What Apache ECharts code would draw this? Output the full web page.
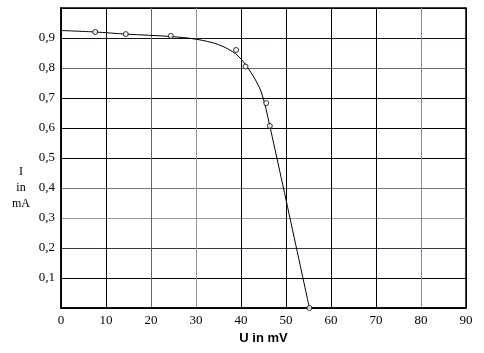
<!DOCTYPE html>
<html>
<head>
<meta charset="utf-8">
<script src="https://cdn.jsdelivr.net/npm/echarts@6/dist/echarts.min.js"></script>
<style>
  html, body { margin: 0; padding: 0; background: #fff; }
  #main { width: 484px; height: 353px; }
</style>
</head>
<body>
<div id="main"></div>
<script>
// measured points (U in mV, I in mA)
var measU = [7.6, 14.4, 24.4, 38.9, 41.0, 45.6, 46.4, 55.2];
var measI = [0.92, 0.913, 0.907, 0.86, 0.805, 0.683, 0.607, 0.0];

// hand drawn trend curve
var fitU = [0, 7.6, 14.4, 24.4, 30, 35, 39, 42, 44.5, 46.4, 55.2];
var fitI = [0.925, 0.92, 0.913, 0.905, 0.896, 0.878, 0.845, 0.79, 0.72, 0.607, 0.0];

var xTicks = [0, 10, 20, 30, 40, 50, 60, 70, 80, 90];

var myChart = echarts.init(document.getElementById('main'));

var serif = 'Liberation Serif';

var option = {
  animation: false,
  grid: {
    left: 61, right: 18, top: 8, bottom: 45,
    show: true, borderColor: '#000', borderWidth: 1.5
  },
  xAxis: {
    type: 'value',
    min: 0, max: 90, interval: 10,
    name: 'U in mV',
    nameLocation: 'middle',
    nameGap: 24,
    nameTextStyle: { fontFamily: 'Liberation Sans', fontWeight: 'bold', fontSize: 13, color: '#000' },
    axisLine: { show: true, lineStyle: { color: '#000', width: 1.5 } },
    axisTick: { show: false },
    axisLabel: {
      fontFamily: serif, fontSize: 13, color: '#000', margin: 6,
      formatter: function (v) { return xTicks.indexOf(v) >= 0 ? String(v) : ''; }
    },
    splitLine: {
      show: true,
      lineStyle: { color: ['#000', '#000', '#666', '#8a9a8a', '#000', '#000', '#000', '#000', '#888', '#000'], width: 1 }
    }
  },
  yAxis: {
    type: 'value',
    min: 0, max: 1, interval: 0.1,
    axisLine: { show: true, lineStyle: { color: '#000', width: 1.5 } },
    axisTick: { show: false },
    axisLabel: {
      fontFamily: serif, fontSize: 13, color: '#000', margin: 6,
      formatter: function (v) {
        if (v < 0.05 || v > 0.95) return '';
        return v.toFixed(1).replace('.', ',');
      }
    },
    splitLine: {
      show: true,
      lineStyle: { color: ['#000', '#000', '#333355', '#999', '#777', '#000', '#000', '#000', '#666', '#111133', '#000'], width: 1 }
    }
  },
  graphic: [{
    type: 'text',
    x: 21, y: 164,
    style: {
      text: 'I\nin\nmA',
      fontFamily: serif, fontSize: 12,
      fill: '#000', align: 'center', verticalAlign: 'top', lineHeight: 16
    }
  }],
  series: [{
    type: 'line',
    data: fitU.map(function (u, i) { return [u, fitI[i]]; }),
    smooth: 0.3,
    showSymbol: false,
    lineStyle: { color: '#000', width: 1 },
    z: 3
  }, {
    type: 'scatter',
    data: measU.map(function (u, i) { return [u, measI[i]]; }),
    symbol: 'circle',
    symbolSize: 5,
    itemStyle: { color: '#fff', borderColor: '#000', borderWidth: 1 },
    z: 4
  }]
};

myChart.setOption(option);
</script>
</body>
</html>
